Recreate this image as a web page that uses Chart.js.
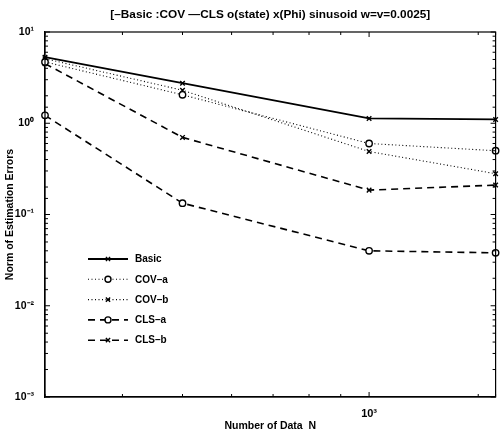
<!DOCTYPE html>
<html>
<head>
<meta charset="utf-8">
<script src="https://cdn.jsdelivr.net/npm/chart.js@4/dist/chart.umd.min.js"></script>
<style>
  html, body { margin: 0; padding: 0; background: #fff; }
  #wrap { width: 501px; height: 436px; }
</style>
</head>
<body>
<div id="wrap"><canvas id="chart"></canvas></div>
<script>
// data
var nValues = [300, 500, 1000, 1600];
var basic = [5.3, 2.75, 1.13, 1.1];
var covA = [4.7, 2.05, 0.60, 0.50];
var covB = [5.1, 2.3, 0.49, 0.28];
var clsA = [1.22, 0.133, 0.040, 0.038];
var clsB = [4.5, 0.70, 0.185, 0.21];
var seriesNames = ['Basic', 'COV\u2013a', 'COV\u2013b', 'CLS\u2013a', 'CLS\u2013b'];
var yTickLabels = { '10': '10\u00b9', '1': '10\u2070', '0.1': '10\u207b\u00b9', '0.01': '10\u207b\u00b2', '0.001': '10\u207b\u00b3' };
var xTickLabels = { '1000': '10\u00b3' };
var titleText = '[\u2013Basic :COV \u2014CLS o(state) x(Phi) sinusoid w=v=0.0025]';

var FONT = 'Liberation Sans, Arial, Helvetica, sans-serif';

function pts(ys) {
  return ys.map(function (y, i) { return { x: nValues[i], y: y }; });
}

var styles = [
  { dash: [], width: 1.8, marker: 'crossRot' },
  { dash: [1, 2.5], width: 1.1, marker: 'circle' },
  { dash: [1, 2.5], width: 1.1, marker: 'crossRot' },
  { dash: [7, 5], width: 1.6, marker: 'circle' },
  { dash: [7, 5], width: 1.6, marker: 'crossRot' }
];
var series = [basic, covA, covB, clsA, clsB];

var datasets = series.map(function (s, i) {
  return {
    label: seriesNames[i],
    data: pts(s),
    borderColor: '#000',
    backgroundColor: '#fff',
    borderWidth: styles[i].width,
    borderDash: styles[i].dash,
    pointStyle: styles[i].marker,
    pointRadius: 3.2,
    pointBorderWidth: 1.4,
    pointBorderColor: '#000',
    pointBackgroundColor: '#fff',
    tension: 0,
    clip: 6
  };
});

// frame with inward ticks, MATLAB style, plus title centred over the axes
var framePlugin = {
  id: 'frame',
  afterDatasetsDraw: function (chart) {
    var ctx = chart.ctx, a = chart.chartArea;
    var xs = chart.scales.x, ys = chart.scales.y;
    ctx.save();
    ctx.strokeStyle = '#000';
    ctx.lineWidth = 1.2;
    ctx.setLineDash([]);
    ctx.strokeRect(a.left, a.top, a.right - a.left, a.bottom - a.top);
    ctx.lineWidth = 1;
    ys.ticks.forEach(function (t) {
      var y = ys.getPixelForValue(t.value);
      var major = Math.abs(Math.log10(t.value) - Math.round(Math.log10(t.value))) < 1e-6;
      var len = major ? 5 : 3;
      ctx.beginPath();
      ctx.moveTo(a.left, y); ctx.lineTo(a.left + len, y);
      ctx.moveTo(a.right, y); ctx.lineTo(a.right - len, y);
      ctx.stroke();
    });
    xs.ticks.forEach(function (t) {
      var x = xs.getPixelForValue(t.value);
      var len = xTickLabels[String(t.value)] ? 5 : 3;
      ctx.beginPath();
      ctx.moveTo(x, a.bottom); ctx.lineTo(x, a.bottom - len);
      ctx.moveTo(x, a.top); ctx.lineTo(x, a.top + len);
      ctx.stroke();
    });
    ctx.fillStyle = '#000';
    ctx.font = 'bold 11.8px ' + FONT;
    ctx.textAlign = 'center';
    ctx.textBaseline = 'middle';
    ctx.fillText(titleText, (a.left + a.right) / 2, 15);
    ctx.restore();
  }
};

// legend drawn like the MATLAB one: line sample + marker + label
var legendPlugin = {
  id: 'matlabLegend',
  afterDraw: function (chart) {
    var ctx = chart.ctx;
    ctx.save();
    chart.data.datasets.forEach(function (ds, i) {
      var y = 259 + i * 20.3;
      ctx.strokeStyle = '#000';
      ctx.lineWidth = ds.borderWidth;
      ctx.setLineDash(ds.borderDash);
      ctx.beginPath();
      ctx.moveTo(88, y); ctx.lineTo(128, y);
      ctx.stroke();
      ctx.setLineDash([]);
      ctx.lineWidth = 1.4;
      ctx.fillStyle = '#fff';
      Chart.helpers.drawPoint(ctx, { pointStyle: ds.pointStyle, radius: 3, rotation: 0, borderWidth: 1.4 }, 108, y);
      ctx.fillStyle = '#000';
      ctx.font = 'bold 10px ' + FONT;
      ctx.textBaseline = 'middle';
      ctx.fillText(ds.label, 135, y + 0.5);
    });
    ctx.restore();
  }
};

new Chart(document.getElementById('chart'), {
  type: 'line',
  data: { datasets: datasets },
  plugins: [framePlugin, legendPlugin],
  options: {
    responsive: true,
    maintainAspectRatio: false,
    animation: false,
    layout: { padding: { top: 32, right: 2, left: 0, bottom: 0 } },
    plugins: {
      legend: { display: false },
      tooltip: { enabled: false },
      title: { display: false }
    },
    scales: {
      x: {
        type: 'logarithmic',
        min: 300,
        max: 1600,
        grid: { display: false },
        border: { display: true, color: '#000', width: 1.2 },
        ticks: {
          color: '#000',
          font: { family: FONT, size: 11, weight: 'bold' },
          padding: 2,
          autoSkip: false,
          maxRotation: 0,
          callback: function (v) { return xTickLabels[String(v)] || ''; }
        },
        title: {
          display: true,
          text: 'Number of Data  N',
          color: '#000',
          font: { family: FONT, size: 10.5, weight: 'bold' },
          padding: { top: 1, bottom: 4 }
        },
        afterFit: function (s) { s.height = 39; }
      },
      y: {
        type: 'logarithmic',
        min: 0.001,
        max: 10,
        grid: { display: false },
        border: { display: true, color: '#000', width: 1.2 },
        ticks: {
          color: '#000',
          font: { family: FONT, size: 10.5, weight: 'bold' },
          padding: 3,
          autoSkip: false,
          callback: function (v) { return yTickLabels[String(v)] || ''; }
        },
        title: {
          display: true,
          text: 'Norm of Estimation Errors',
          color: '#000',
          font: { family: FONT, size: 10.5, weight: 'bold' },
          padding: { top: 4, bottom: 0 }
        },
        afterFit: function (s) { s.width = 45; }
      }
    }
  }
});
</script>
</body>
</html>
